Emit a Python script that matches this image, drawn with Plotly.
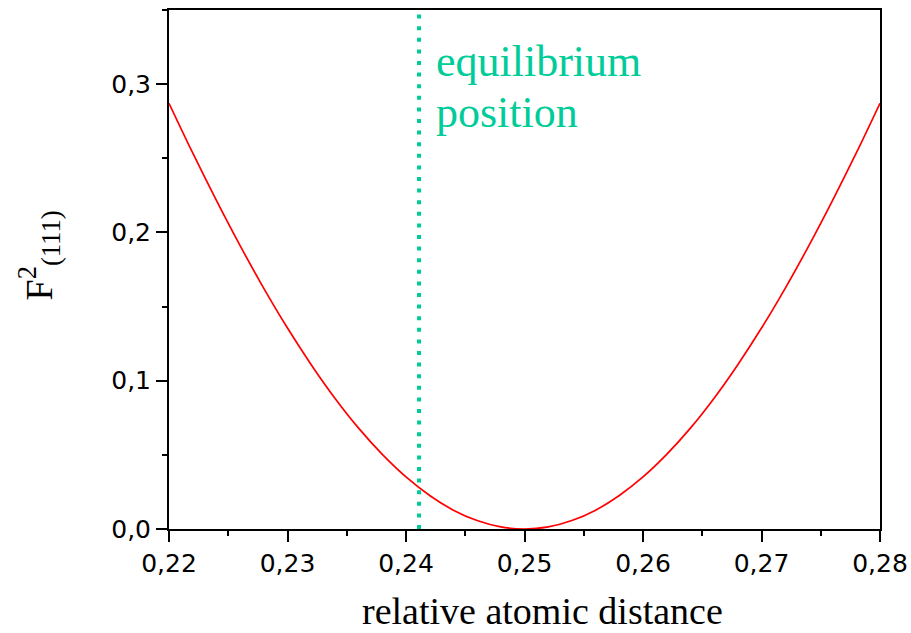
import plotly.graph_objects as go

# relative atomic distance (x) and structure factor squared F^2(111)
x_dist = [0.220, 0.222, 0.224, 0.226, 0.228, 0.230, 0.232, 0.234, 0.236, 0.238,
          0.240, 0.242, 0.244, 0.246, 0.248, 0.250, 0.252, 0.254, 0.256, 0.258,
          0.260, 0.262, 0.264, 0.266, 0.268, 0.270, 0.272, 0.274, 0.276, 0.278, 0.280]
f2_111 = [0.2871, 0.2536, 0.2216, 0.1911, 0.1623, 0.1355, 0.1108, 0.0882, 0.0680, 0.0503,
          0.0351, 0.0226, 0.0127, 0.0057, 0.0014, 0.0000, 0.0014, 0.0057, 0.0127, 0.0226,
          0.0351, 0.0503, 0.0680, 0.0882, 0.1108, 0.1355, 0.1623, 0.1911, 0.2216, 0.2536, 0.2871]

eq_position = 0.2411
eq_span = [0.0, 0.35]
eq_label = ["equilibrium", "position"]

x_ticks = [0.22, 0.23, 0.24, 0.25, 0.26, 0.27, 0.28]
y_ticks = [0.0, 0.1, 0.2, 0.3]

TEAL = "rgb(0,204,153)"

fig = go.Figure()
fig.add_trace(go.Scatter(
    x=[eq_position, eq_position], y=eq_span, mode="lines",
    line=dict(color=TEAL, width=4, dash="4px,7.6px"), showlegend=False, hoverinfo="skip"))
fig.add_trace(go.Scatter(
    x=x_dist, y=f2_111, mode="lines", line=dict(color="#ff0000", width=1.7, shape="spline"),
    showlegend=False))

# label next to the equilibrium line
for i, txt in enumerate(eq_label):
    fig.add_annotation(x=eq_position, y=[0.3330, 0.2990][i], xref="x", yref="y",
                       text=txt, showarrow=False, xanchor="left", yanchor="top", xshift=15,
                       font=dict(family="Liberation Serif", size=44, color=TEAL))

# x axis title
fig.add_annotation(x=0.526, y=-0.113, xref="paper", yref="paper", text="relative atomic distance",
                   showarrow=False, xanchor="center", yanchor="top",
                   font=dict(family="Liberation Serif", size=38, color="black"))

# y axis title
fig.add_annotation(x=(39 - 169) / 711, y=0.5, yshift=14, xref="paper", yref="paper",
                   text="F<sup>2</sup><sub>(111)</sub>", textangle=-90, showarrow=False,
                   xanchor="center", yanchor="middle",
                   font=dict(family="Liberation Serif", size=38, color="black"))

axis_common = dict(showline=True, linecolor="black", linewidth=2, mirror=True,
                   ticks="outside", ticklen=11, tickwidth=2, tickcolor="black",
                   showgrid=False, zeroline=False, automargin=False,
                   tickfont=dict(family="DejaVu Sans", size=25, color="black"))

fig.update_layout(
    width=911, height=633,
    margin=dict(l=169, r=31, t=10, b=104),
    paper_bgcolor="white", plot_bgcolor="white",
    separators=", ",
    xaxis=dict(range=[0.22, 0.28], tickvals=x_ticks, tickformat=".2f",
               minor=dict(dtick=0.005, ticks="outside", ticklen=5, tickwidth=2, tickcolor="black"),
               **axis_common),
    yaxis=dict(range=[0.0, 0.35], tickvals=y_ticks, tickformat=".1f",
               minor=dict(dtick=0.05, ticks="outside", ticklen=5, tickwidth=2, tickcolor="black"),
               **axis_common),
)

fig.write_html("out.html")
